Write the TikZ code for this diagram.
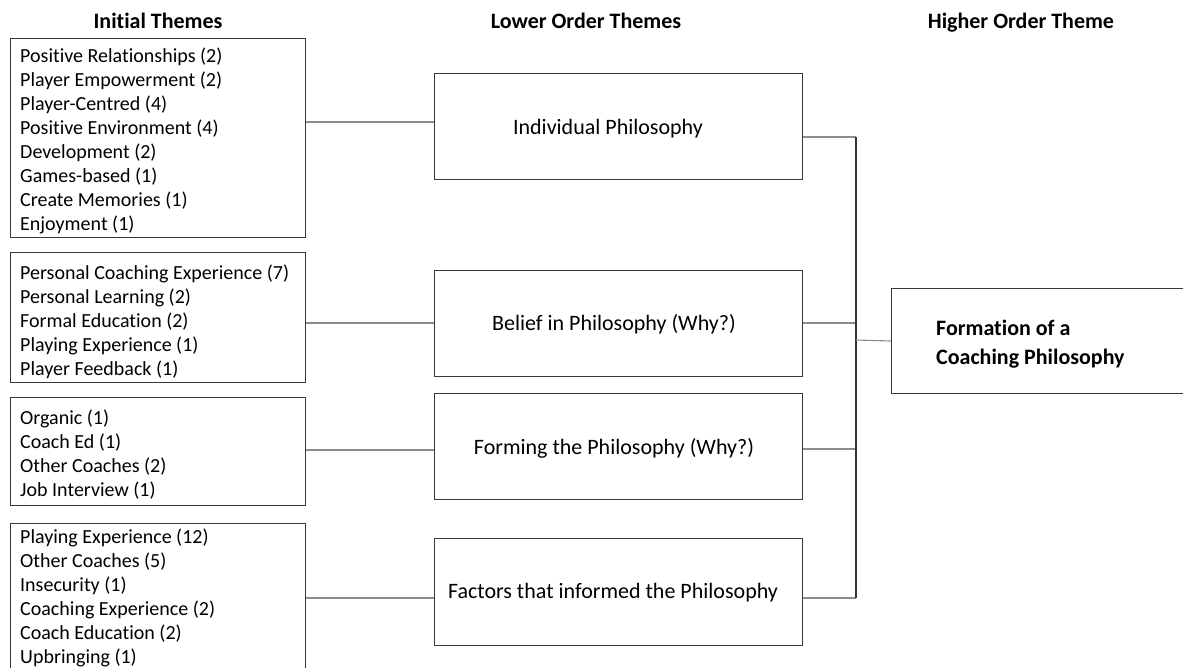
\documentclass[tikz,border=0pt]{standalone}
\usepackage{fontspec}
\setmainfont{Carlito}[Ligatures=NoCommon]
\begin{document}
\begin{tikzpicture}[x=1pt,y=-1pt,
  box/.style={draw=black!78, line width=1.4pt, rectangle, anchor=north west, inner sep=0pt},
  lefttext/.style={anchor=west, align=left, inner sep=0pt, font=\fontsize{20}{24}\selectfont},
  midbox/.style={box, minimum width=368pt, minimum height=106pt},
  midtext/.style={inner sep=0pt, font=\fontsize{22}{26}\selectfont},
  head/.style={anchor=base, inner sep=0pt, font=\fontsize{22}{26}\selectfont\bfseries},
  conn/.style={draw=black!45, line width=1.1pt},
  bus/.style={draw=black!80, line width=1.1pt}]
\useasboundingbox (0,0) rectangle (1183,667);
\fill[white] (0,0) rectangle (1183,667);
% headers
\node[head] (h1) at (158,28) {Initial Themes};
\node[head] (h2) at (586,28) {Lower Order Themes};
\node[head] (h3) at (1021,28) {Higher Order Theme};
% left boxes
\node[box, minimum width=295pt, minimum height=199pt] (L1) at (10,38) {};
\node[box, minimum width=295pt, minimum height=130pt] (L2) at (10,252) {};
\node[box, minimum width=295pt, minimum height=108pt] (L3) at (10,397) {};
\node[box, minimum width=295pt, minimum height=150pt] (L4) at (10,523) {};
\node[lefttext] (L1t) at ([xshift=10pt,yshift=-3pt]L1.west) {Positive Relationships (2)\\Player Empowerment (2)\\Player-Centred (4)\\Positive Environment (4)\\Development (2)\\Games-based (1)\\Create Memories (1)\\Enjoyment (1)};
\node[lefttext] (L2t) at ([xshift=10pt,yshift=-4pt]L2.west) {Personal Coaching Experience (7)\\Personal Learning (2)\\Formal Education (2)\\Playing Experience (1)\\Player Feedback (1)};
\node[lefttext] (L3t) at ([xshift=10pt,yshift=-2.5pt]L3.west) {Organic (1)\\Coach Ed (1)\\Other Coaches (2)\\Job Interview (1)};
\node[lefttext] (L4t) at (20,598) {Playing Experience (12)\\Other Coaches (5)\\Insecurity (1)\\Coaching Experience (2)\\Coach Education (2)\\Upbringing (1)};
% middle boxes
\node[midbox] (M1) at (434,73) {};
\node[midbox] (M2) at (434,270) {};
\node[midbox] (M3) at (434,393) {};
\node[midbox, minimum height=107pt] (M4) at (434,538) {};
\node[midtext] (M1t) at (608,129) {Individual Philosophy};
\node[midtext] (M2t) at (614,324) {Belief in Philosophy (Why?)};
\node[midtext] (M3t) at (614,448) {Forming the Philosophy (Why?)};
\node[midtext] (M4t) at (613,593) {Factors that informed the Philosophy};
% right box
\node[box, minimum width=320pt, minimum height=105pt] (R) at (891,288) {};
\node[anchor=west, align=left, inner sep=0pt, font=\fontsize{22}{29}\selectfont\bfseries] (Rt) at ([xshift=45pt,yshift=-3pt]R.west) {Formation of a\\Coaching Philosophy};
% connectors left-middle
\draw[conn] (L1.east |- 0,122) -- (M1.west |- 0,122);
\draw[conn] (L2.east |- 0,323) -- (M2.west |- 0,323);
\draw[conn] (L3.east |- 0,450) -- (M3.west |- 0,450);
\draw[conn] (L4.east |- 0,598) -- (M4.west |- 0,598);
% connectors middle-bus
\coordinate (btop) at (856,137);
\coordinate (bbot) at (856,598);
\coordinate (bmid) at (856,340);
\draw[conn] (M1.east |- btop) -- (btop);
\draw[conn] (M2.east |- 0,323) -- (856,323);
\draw[conn] (M3.east |- 0,449) -- (856,449);
\draw[conn] (M4.east |- bbot) -- (bbot);
\draw[bus] (btop) -- (bbot);
\draw[conn] (bmid) -- (R.west |- 0,341);
\end{tikzpicture}
\end{document}
